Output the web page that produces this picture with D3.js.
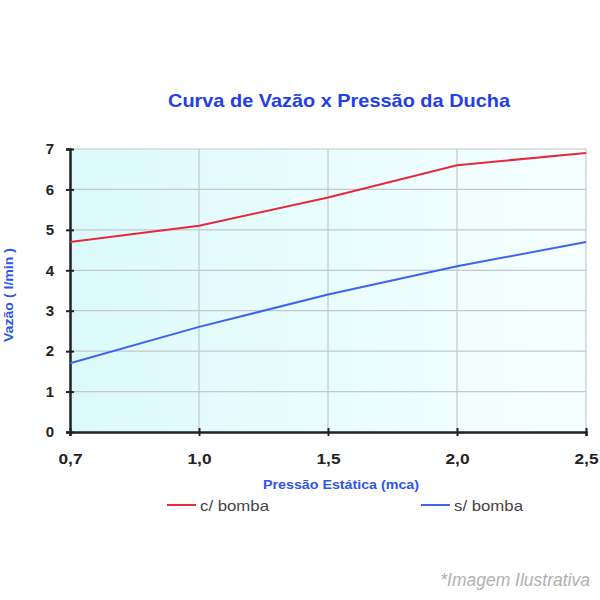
<!DOCTYPE html>
<html><head><meta charset="utf-8">
<script src="https://cdn.jsdelivr.net/npm/d3@7"></script>
<style>body{margin:0;background:#fff}svg{display:block}</style>
</head><body>
<svg id="c" width="600" height="600"></svg>
<script>
const categories = ["0,7","1,0","1,5","2,0","2,5"];
const comBomba = [4.7, 5.1, 5.8, 6.6, 6.9];
const semBomba = [1.7, 2.6, 3.4, 4.1, 4.7];
const yTicks = [0,1,2,3,4,5,6,7];
const seriesNames = ["c/ bomba","s/ bomba"];
const seriesColors = ["#e8283c","#3c64f0"];

const svg = d3.select("#c");
const L=70, R=586, T=149, B=432;
const x = d3.scalePoint().domain(categories).range([L,R]);
const y = d3.scaleLinear().domain([0,7]).range([B,T]);
const font = "Liberation Sans, Arial, sans-serif";

const defs = svg.append("defs");
const g = defs.append("linearGradient").attr("id","bg").attr("x1","0").attr("x2","1").attr("y1","0").attr("y2","0");
g.append("stop").attr("offset","0").attr("stop-color","#dcfafb");
g.append("stop").attr("offset","1").attr("stop-color","#f6ffff");
svg.append("rect").attr("x",L).attr("y",T).attr("width",R-L).attr("height",B-T).attr("fill","url(#bg)");

// grid
svg.append("g").selectAll("line").data(yTicks.filter(d=>d>0)).join("line")
  .attr("x1",L).attr("x2",R).attr("y1",d=>y(d)).attr("y2",d=>y(d))
  .attr("stroke","#c4c8c8").attr("stroke-width",1.2);
svg.append("g").selectAll("line").data(categories.slice(1)).join("line")
  .attr("x1",d=>x(d)).attr("x2",d=>x(d)).attr("y1",T).attr("y2",B)
  .attr("stroke","#c4c8c8").attr("stroke-width",1.2);

// axes
const yAxis = svg.append("g").attr("transform",`translate(${L},0)`)
  .call(d3.axisLeft(y).tickValues(yTicks).tickSize(4).tickPadding(12).tickFormat(d3.format("d")));
const xAxis = svg.append("g").attr("transform",`translate(0,${B})`)
  .call(d3.axisBottom(x).tickSize(4).tickPadding(17));
[yAxis,xAxis].forEach(a=>{
  a.select(".domain").attr("stroke","#222").attr("stroke-width",2.5);
  a.selectAll(".tick line").attr("stroke","#222").attr("stroke-width",2);
  a.selectAll("text").attr("fill","#222").style("font-family",font)
   .style("font-weight","bold").style("font-size","15px");
});
xAxis.selectAll("text").attr("textLength",24).attr("lengthAdjust","spacingAndGlyphs");
xAxis.selectAll(".tick line").attr("y1",-4);
yAxis.selectAll(".tick line").attr("x2",4).attr("x1",-4);

// lines
const line = d3.line().x((d,i)=>x(categories[i])).y(d=>y(d));
[comBomba, semBomba].forEach((s,i)=>{
  svg.append("path").datum(s).attr("d",line).attr("fill","none")
    .attr("stroke",seriesColors[i]).attr("stroke-width",2);
});

svg.append("text").attr("x",339).attr("y",107).attr("text-anchor","middle")
  .style("font-family",font).style("font-weight","bold").style("font-size","19px")
  .attr("textLength",342).attr("lengthAdjust","spacingAndGlyphs")
  .attr("fill","#2340e8").text("Curva de Vazão x Pressão da Ducha");
svg.append("text").attr("transform","translate(13,295) rotate(-90)").attr("text-anchor","middle")
  .style("font-family",font).style("font-weight","bold").style("font-size","12px")
  .attr("textLength",94).attr("lengthAdjust","spacingAndGlyphs")
  .attr("fill","#2f55f0").text("Vazão ( l/min )");
svg.append("text").attr("x",341).attr("y",489).attr("text-anchor","middle")
  .style("font-family",font).style("font-weight","bold").style("font-size","13.5px")
  .attr("textLength",156).attr("lengthAdjust","spacingAndGlyphs")
  .attr("fill","#2f55f0").text("Pressão Estática (mca)");

// legend
const lx=[167,421];
seriesNames.forEach((n,i)=>{
  svg.append("line").attr("x1",lx[i]).attr("x2",lx[i]+29).attr("y1",505).attr("y2",505)
    .attr("stroke",seriesColors[i]).attr("stroke-width",2);
  svg.append("text").attr("x",lx[i]+33).attr("y",511).style("font-family",font)
    .style("font-size","15px").attr("textLength",69).attr("lengthAdjust","spacingAndGlyphs")
    .attr("fill","#444").text(n);
});

svg.append("text").attr("x",590).attr("y",586).attr("text-anchor","end")
  .style("font-family",font).style("font-style","italic").style("font-size","17.5px")
  .attr("fill","#b0b0b0").text("*Imagem Ilustrativa");
</script>
</body></html>
